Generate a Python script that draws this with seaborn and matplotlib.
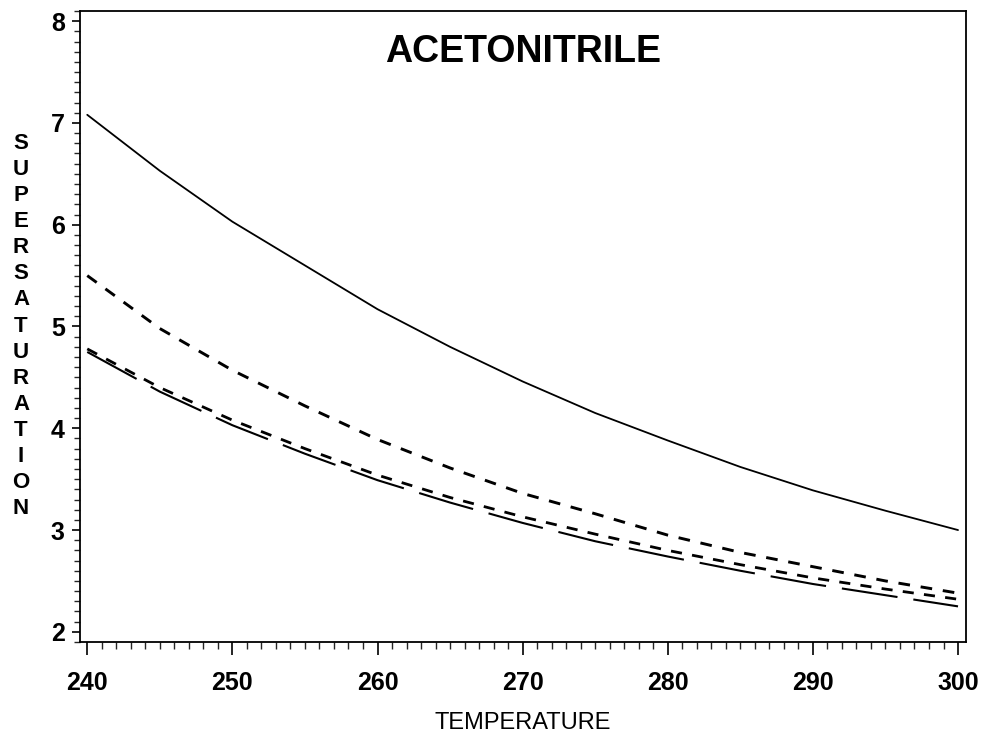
import numpy as np
import pandas as pd
import matplotlib
matplotlib.use("Agg")
import matplotlib.pyplot as plt
import seaborn as sns
from matplotlib.ticker import MultipleLocator

# ---- data ----
temperature = [240, 245, 250, 255, 260, 265, 270, 275, 280, 285, 290, 295, 300]
curve_solid = [7.08, 6.53, 6.03, 5.60, 5.17, 4.80, 4.46, 4.15, 3.88, 3.62, 3.39, 3.19, 3.00]
curve_dash = [5.50, 4.98, 4.57, 4.22, 3.89, 3.61, 3.36, 3.16, 2.95, 2.78, 2.64, 2.50, 2.38]
curve_short = [4.78, 4.40, 4.08, 3.80, 3.54, 3.32, 3.13, 2.96, 2.80, 2.66, 2.53, 2.42, 2.32]
curve_long = [4.75, 4.36, 4.03, 3.75, 3.49, 3.27, 3.07, 2.89, 2.74, 2.60, 2.47, 2.36, 2.25]
series_names = ["A", "B", "C", "D"]
x_ticks = [240, 250, 260, 270, 280, 290, 300]
y_ticks = [2, 3, 4, 5, 6, 7, 8]
title_text = "ACETONITRILE"
xlabel_text = "TEMPERATURE"
ylabel_text = "SUPERSATURATION"

frames = []
for name, vals in zip(series_names, [curve_solid, curve_dash, curve_short, curve_long]):
    frames.append(pd.DataFrame({"T": temperature, "S": vals, "series": name}))
df = pd.concat(frames, ignore_index=True)

sns.set_theme(style="white")
plt.rcParams["font.family"] = ["Liberation Sans", "DejaVu Sans"]

fig = plt.figure(figsize=(9.84, 7.36), dpi=100)
ax = fig.add_axes([80 / 984, 1 - 642 / 736, (966 - 80) / 984, (642 - 11) / 736])

sns.lineplot(
    data=df, x="T", y="S", hue="series", style="series",
    palette={n: "black" for n in series_names},
    dashes={"A": "", "B": (4.0, 3.7), "C": (4.0, 3.7), "D": (27, 7.7)},
    legend=False, ax=ax, estimator=None, sort=False,
)
lws = {0: 1.3, 1: 2.1, 2: 2.0, 3: 1.5}
for i, line in enumerate(ax.get_lines()):
    line.set_linewidth(lws.get(i, 1.5))
    line.set_color("black")

ax.set_xlim(239.5, 300.55)
ax.set_ylim(1.9, 8.1)
ax.set_xticks(x_ticks)
ax.set_yticks(y_ticks)
ax.xaxis.set_minor_locator(MultipleLocator(1))
ax.yaxis.set_minor_locator(MultipleLocator(0.1))
ax.set_xticklabels([str(t) for t in x_ticks], fontweight="bold", fontsize=18)
ax.set_yticklabels([str(t) for t in y_ticks], fontweight="bold", fontsize=18)
ax.tick_params(axis="x", which="major", direction="out", length=9, width=1.2,
               bottom=True, pad=12, colors="black")
ax.tick_params(axis="x", which="minor", direction="out", length=5, width=1.0, bottom=True)
ax.tick_params(axis="y", which="major", direction="out", length=6, width=1.2,
               left=True, pad=5, colors="black")
ax.tick_params(axis="y", which="minor", direction="out", length=4, width=1.0, left=True)
for sp in ax.spines.values():
    sp.set_color("black")
    sp.set_linewidth(1.3)
ax.set_xlabel("")
ax.set_ylabel("")

fig.text(523 / 984, 1 - 52 / 736, title_text, ha="center", va="center",
         fontsize=27, fontweight="bold", color="black")
fig.text(523 / 984, 1 - 723 / 736, xlabel_text, ha="center", va="center",
         fontsize=17, color="black")
fig.text(21 / 984, 1 - 326 / 736, "\n".join(ylabel_text), ha="center", va="center",
         fontsize=16, fontweight="bold", linespacing=1.32, color="black")

fig.savefig("out.png", dpi=100, facecolor="white")
